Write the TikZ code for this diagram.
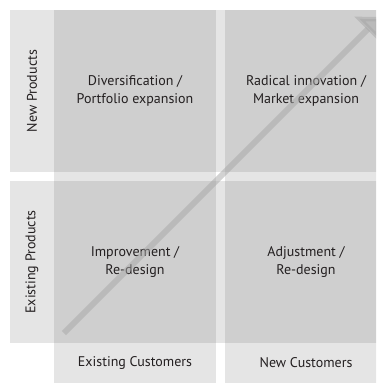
\documentclass[tikz,border=0pt]{standalone}
\usepackage{fontspec}
\setmainfont{PT Sans}
\usetikzlibrary{positioning}
\usetikzlibrary{arrows.meta}
\definecolor{cellgray}{gray}{0.81}
\definecolor{bandgray}{gray}{0.9}
\definecolor{inkgray}{HTML}{231F20}
\tikzstyle{block} = [fill=cellgray, minimum width=162pt, minimum height=162pt,
    inner sep=0pt, outer sep=0pt, align=center, text=inkgray,
    font=\fontsize{14}{18}\selectfont]
\tikzstyle{rowlabel} = [fill=bandgray, minimum width=44pt, minimum height=162pt,
    inner sep=0pt, outer sep=0pt, text=inkgray,
    font=\fontsize{14}{18}\selectfont]
\tikzstyle{collabel} = [fill=bandgray, minimum width=162pt, minimum height=40pt,
    inner sep=0pt, outer sep=0pt, text=inkgray,
    font=\fontsize{14}{18}\selectfont]
\tikzstyle{trend} = [line width=6pt, draw=black!35, opacity=0.5,
    -{Triangle[length=18pt,width=36pt]}]

\begin{document}
\begin{tikzpicture}[x=1pt, y=-1pt, node distance=171pt]
    \useasboundingbox (0,0) rectangle (376,383);
    \clip (0,0) rectangle (376,383);
    % We start by placing the four cells
    \node [block] (divers) at (135,91) {Diversification /\\Portfolio expansion};
    \node [block, right of=divers] (radical) {Radical innovation /\\Market expansion};
    \node [block, below of=divers] (improve) {Improvement /\\Re-design};
    \node [block, right of=improve] (adjust) {Adjustment /\\Re-design};

    % the axis labels
    \node [rowlabel, left of=divers, node distance=103pt] (newprod) {\rotatebox{90}{New Products}};
    \node [rowlabel, left of=improve, node distance=103pt] (existprod) {\rotatebox{90}{Existing Products}};
    \node [collabel, below of=improve, node distance=101pt] (existcust) {Existing Customers};
    \node [collabel, below of=adjust, node distance=101pt] (newcust) {New Customers};

    % light gaps between the cells
    \fill [bandgray] (divers.south west) rectangle (improve.north east);
    \fill [bandgray] (radical.south west) rectangle (adjust.north east);
    \fill [bandgray] (divers.north east) rectangle (radical.south west);
    \fill [bandgray] (improve.north east) rectangle (adjust.south west);

    % the trend arrow
    \coordinate (tail) at (64,333);
    \coordinate (tip) at (380,17);
    \draw [trend] (tail) -- (tip);
\end{tikzpicture}
\end{document}
